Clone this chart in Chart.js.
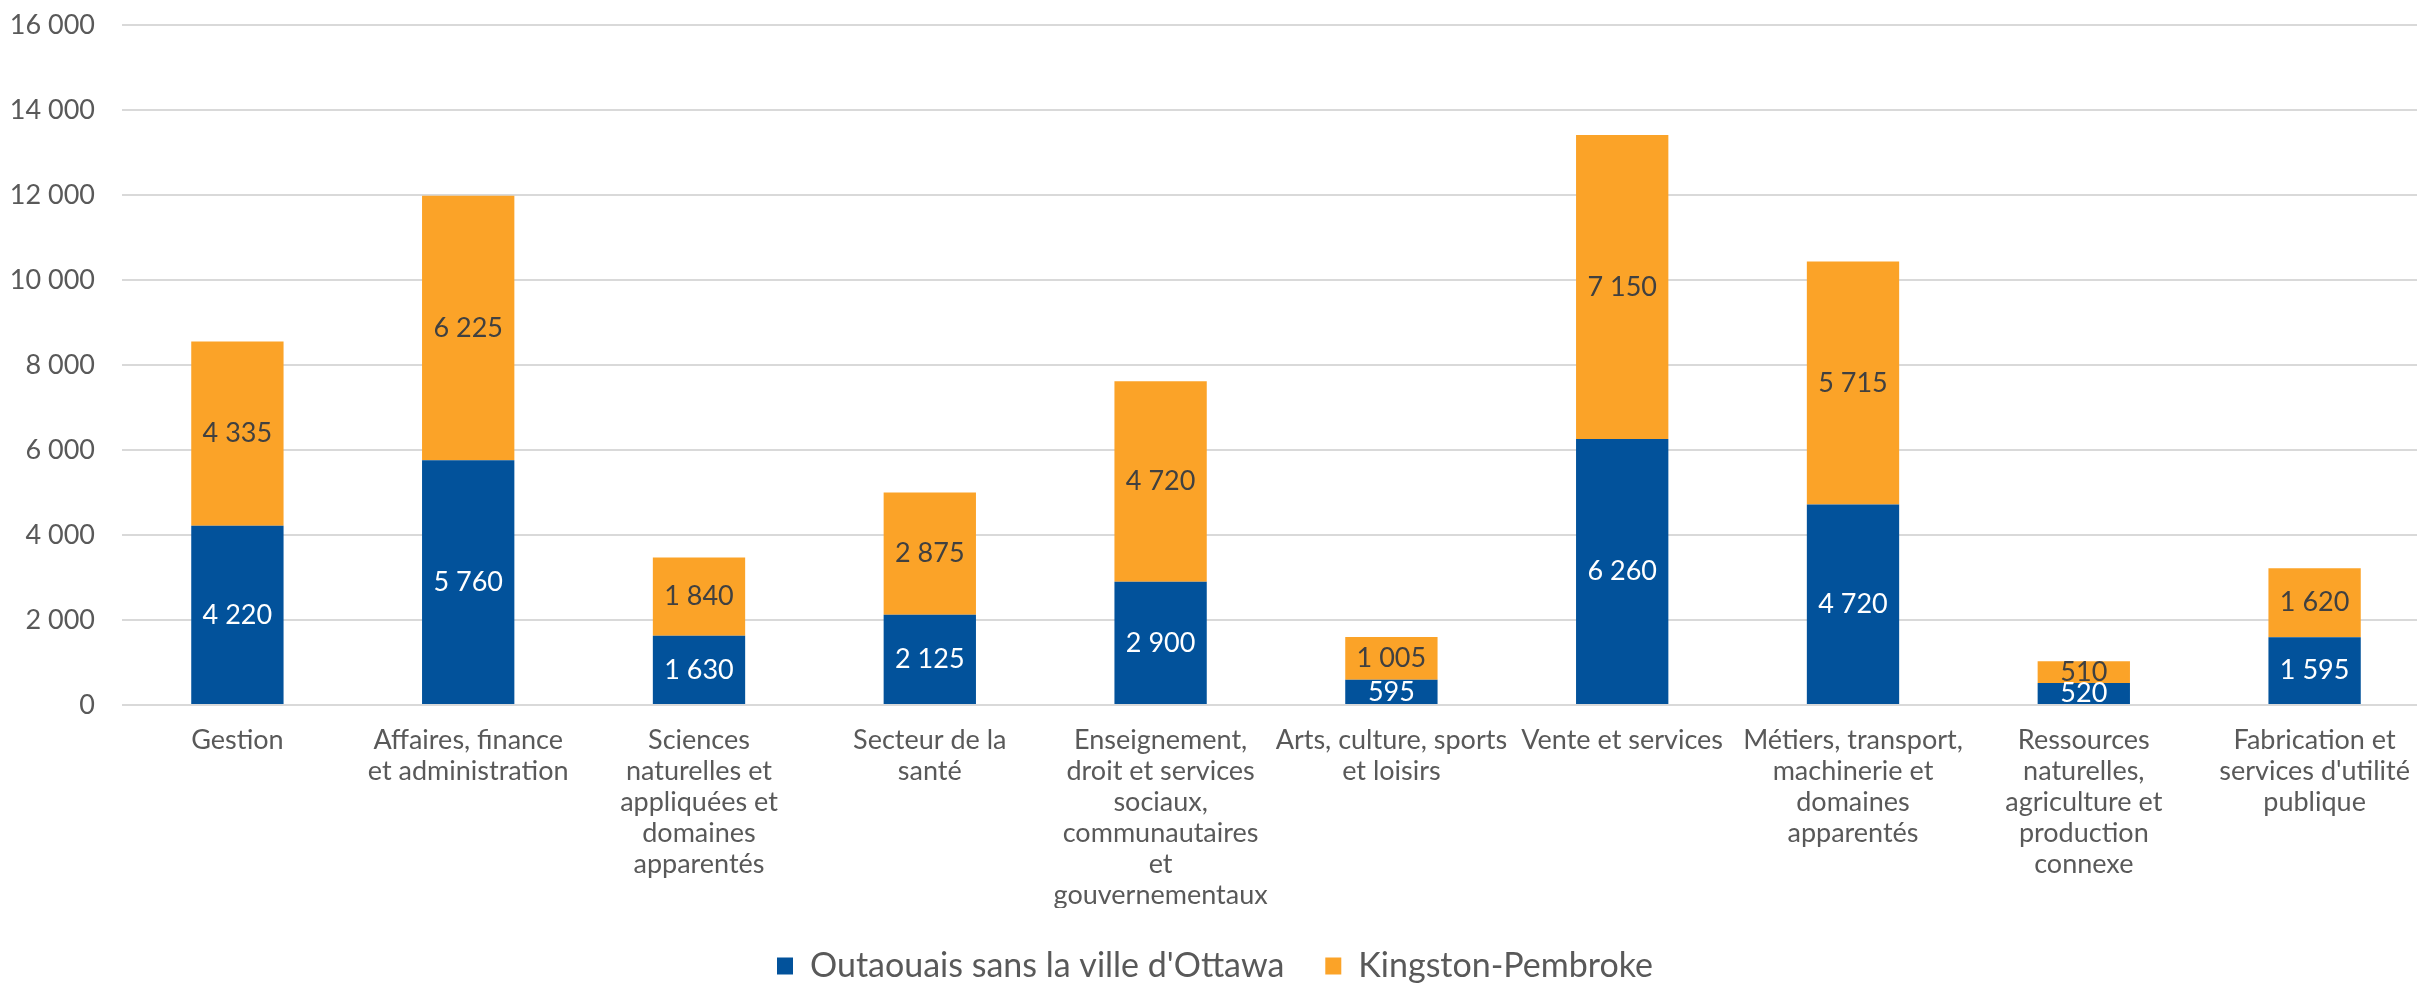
<!DOCTYPE html>
<html>
<head>
<meta charset="utf-8">
<script src="https://cdn.jsdelivr.net/npm/chart.js@4"></script>
<style>
  html, body { margin: 0; padding: 0; overflow: hidden; background: #fff; }
  #wrap { width: 2430px; height: 993px; }
</style>
</head>
<body>
<div id="wrap"><canvas id="chart_emploi"></canvas></div>
<script>
// categories (une entree par ligne de texte)
const categories = [
  ['Gestion'],
  ['Affaires, finance', 'et administration'],
  ['Sciences', 'naturelles et', 'appliquées et', 'domaines', 'apparentés'],
  ['Secteur de la', 'santé'],
  ['Enseignement,', 'droit et services', 'sociaux,', 'communautaires', 'et', 'gouvernementaux'],
  ['Arts, culture, sports', 'et loisirs'],
  ['Vente et services'],
  ['Métiers, transport,', 'machinerie et', 'domaines', 'apparentés'],
  ['Ressources', 'naturelles,', 'agriculture et', 'production', 'connexe'],
  ['Fabrication et', "services d'utilité", 'publique']
];
const outaouais = [4220, 5760, 1630, 2125, 2900, 595, 6260, 4720, 520, 1595];
const kingston = [4335, 6225, 1840, 2875, 4720, 1005, 7150, 5715, 510, 1620];
const seriesNames = ["Outaouais sans la ville d'Ottawa", 'Kingston-Pembroke'];
const yTicks = [0, 2000, 4000, 6000, 8000, 10000, 12000, 14000, 16000];

const FONT = 'Lato';
const GRIS = '#595959';

// format avec espace pour les milliers : 4 335
function fmt(n){
  return String(n).replace(/\B(?=(\d{3})+(?!\d))/g, ' ');
}

// plugin simple pour ecrire les valeurs au centre de chaque segment
const etiquettes = {
  id: 'etiquettes',
  afterDatasetsDraw(chart){
    const ctx = chart.ctx;
    ctx.save();
    ctx.font = '27px ' + FONT;
    ctx.textAlign = 'center';
    ctx.textBaseline = 'middle';
    chart.data.datasets.forEach(function(ds, i){
      const meta = chart.getDatasetMeta(i);
      ctx.fillStyle = i == 0 ? '#ffffff' : '#404040';
      meta.data.forEach(function(bar, j){
        const y = (bar.y + bar.base) / 2;
        ctx.fillText(fmt(ds.data[j]), bar.x, y);
      });
    });
    ctx.restore();
  }
};

const data = {
  labels: categories,
  datasets: [
    { label: seriesNames[0], data: outaouais, backgroundColor: '#02529b' },
    { label: seriesNames[1], data: kingston, backgroundColor: '#fba328' }
  ]
};

const config = {
  type: 'bar',
  data: data,
  plugins: [etiquettes],
  options: {
    responsive: true,
    maintainAspectRatio: false,
    animation: false,
    layout: { padding: { top: 25, left: 0, right: 0, bottom: 0 } },
    datasets: {
      bar: { barPercentage: 0.4, categoryPercentage: 1.0 }
    },
    scales: {
      x: {
        stacked: true,
        grid: { display: false },
        border: { display: false },
        ticks: {
          color: GRIS,
          font: { family: FONT, size: 27, lineHeight: 1.15 },
          padding: 12,
          maxRotation: 0,
          autoSkip: false
        },
        afterFit: function(scale){ scale.height = 203; }
      },
      y: {
        stacked: true,
        min: 0,
        max: 16000,
        afterBuildTicks: function(scale){
          scale.ticks = yTicks.map(function(v){ return { value: v }; });
        },
        grid: { color: '#d9d9d9', lineWidth: 2, drawTicks: false },
        border: { display: false },
        ticks: {
          color: GRIS,
          font: { family: FONT, size: 27 },
          padding: 27,
          callback: function(v){ return fmt(v); }
        },
        afterFit: function(scale){
          scale.width = 122;
          scale.paddingTop = 0;
          scale.paddingBottom = 0;
        }
      }
    },
    plugins: {
      legend: {
        position: 'bottom',
        labels: {
          color: GRIS,
          font: { family: FONT, size: 34 },
          boxWidth: 16,
          boxHeight: 17,
          padding: 41
        }
      },
      tooltip: { enabled: false },
      title: { display: false }
    }
  }
};

var monChart = new Chart(document.getElementById('chart_emploi'), config);
</script>
</body>
</html>
